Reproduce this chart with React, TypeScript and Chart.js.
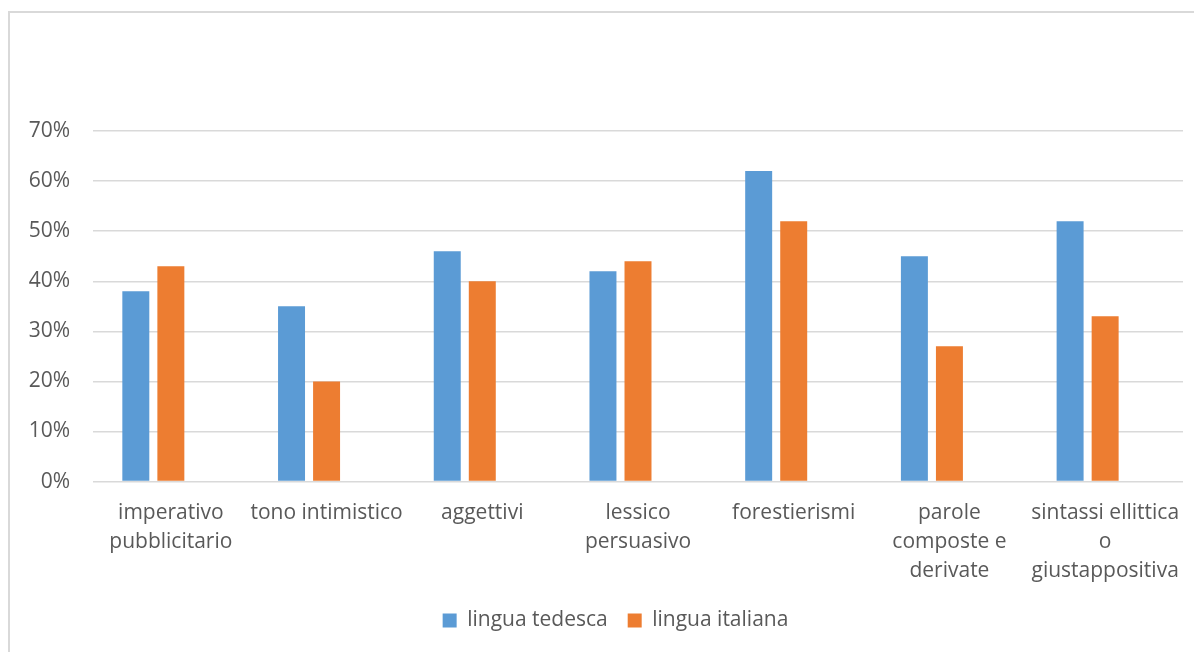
import React, { useEffect, useRef } from "react";
import { Chart, registerables } from "chart.js";

Chart.register(...registerables);

const categories: string[][] = [
  ["imperativo", "pubblicitario"],
  ["tono intimistico"],
  ["aggettivi"],
  ["lessico", "persuasivo"],
  ["forestierismi"],
  ["parole", "composte e", "derivate"],
  ["sintassi ellittica", "o", "giustappositiva"],
];
const seriesNames = ["lingua tedesca", "lingua italiana"];
const tedesca = [38, 35, 46, 42, 62, 45, 52];
const italiana = [43, 20, 40, 44, 52, 27, 33];
const emptySeries = [null, null, null, null, null, null, null];
const yTicks = [0, 10, 20, 30, 40, 50, 60, 70];

const FONT = "'Open Sans', sans-serif";
const TEXT = "#595959";
const GRID = "#d9d9d9";

export default function App() {
  const ref = useRef<HTMLCanvasElement>(null);
  useEffect(() => {
    if (!ref.current) return;
    const chart = new Chart(ref.current, {
      type: "bar",
      data: {
        labels: categories,
        datasets: [
          { label: seriesNames[0], data: tedesca, backgroundColor: "#5B9BD5" },
          { label: seriesNames[1], data: italiana, backgroundColor: "#ED7D31" },
          { label: "", data: emptySeries as any, backgroundColor: "transparent" },
        ],
      },
      options: {
        animation: false,
        responsive: false,
        maintainAspectRatio: false,
        datasets: { bar: { categoryPercentage: 0.675, barPercentage: 0.77 } },
        layout: { padding: { top: 118, left: 0, right: 0, bottom: 11 } },
        plugins: {
          tooltip: { enabled: false },
          legend: {
            position: "bottom",
            labels: {
              boxWidth: 14,
              boxHeight: 14,
              padding: 20,
              color: TEXT,
              font: { family: FONT, size: 21 },
              filter: (item) => item.text !== "",
            },
          },
        },
        scales: {
          x: {
            grid: { display: false, drawTicks: false },
            border: { display: false },
            ticks: {
              color: TEXT,
              font: { family: FONT, size: 21, lineHeight: "29px" as any },
              padding: 16.5,
              autoSkip: false,
              maxRotation: 0,
            },
            afterFit: (s: any) => {
              s.height = 108.4;
            },
          },
          y: {
            min: 0,
            max: 70,
            afterBuildTicks: (s: any) => {
              s.ticks = yTicks.map((v) => ({ value: v }));
            },
            grid: { color: GRID, lineWidth: 1.5, drawTicks: false },
            border: { display: false },
            ticks: {
              color: TEXT,
              font: { family: FONT, size: 21 },
              padding: 23,
              callback: (v: any) => v + "%",
            },
            afterFit: (s: any) => {
              s.width = 83;
            },
          },
          y2: {
            position: "right",
            display: true,
            grid: { display: false, drawTicks: false },
            border: { display: false },
            ticks: { display: false },
            afterFit: (s: any) => {
              s.width = 38;
            },
          },
        },
      },
    });
    return () => chart.destroy();
  }, []);

  return (
    <div style={{ position: "relative", width: 1194, height: 644, overflow: "hidden" }}>
      <div
        style={{
          position: "absolute",
          left: 0,
          top: 3,
          width: 1211,
          height: 660,
          border: `2px solid ${GRID}`,
          background: "#fff",
        }}
      >
        <canvas ref={ref} width={1211} height={639} style={{ display: "block", width: 1211, height: 639 }} />
      </div>
    </div>
  );
}
